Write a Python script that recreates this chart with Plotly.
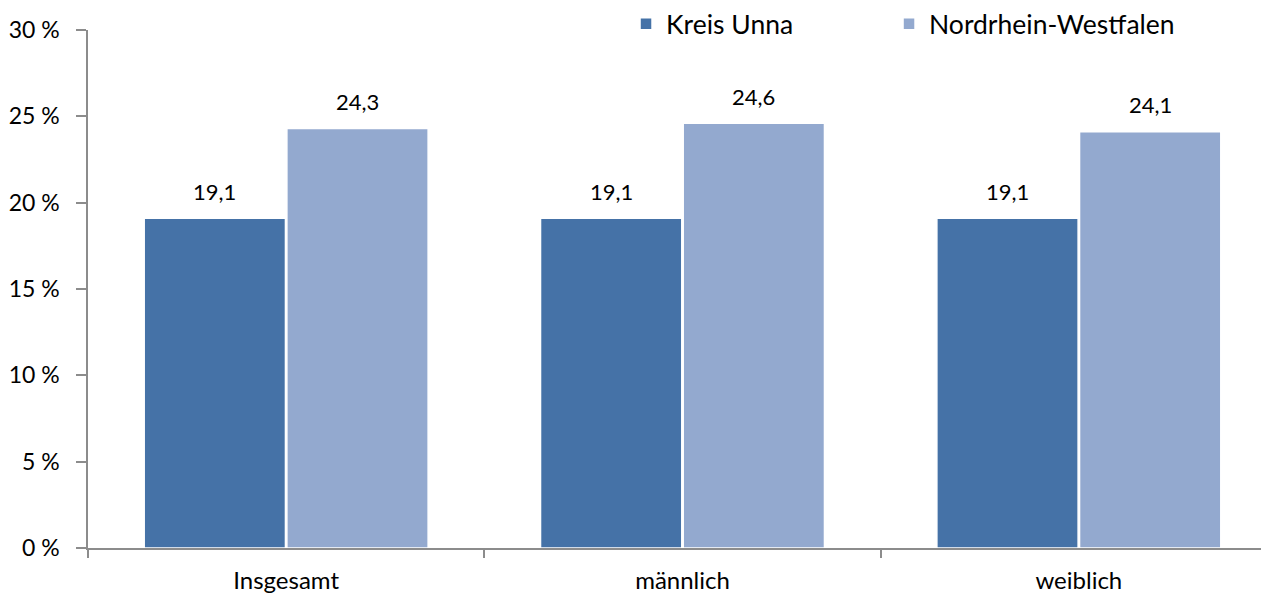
import plotly.graph_objects as go

categories = ['Insgesamt', 'männlich', 'weiblich']
kreis_unna = [19.1, 19.1, 19.1]
nrw = [24.3, 24.6, 24.1]
y_ticks = [0, 5, 10, 15, 20, 25, 30]
y_tick_labels = [f'{t} %' for t in y_ticks]

FONT = 'Lato'
AXIS_COLOR = '#8c8c8c'

fig = go.Figure()
fig.add_trace(go.Bar(
    x=categories, y=kreis_unna, name='Kreis Unna', legend='legend',
    marker=dict(color='#4572A7', line=dict(color='white', width=1.5)),
))
fig.add_trace(go.Bar(
    x=categories, y=nrw, name='Nordrhein-Westfalen', legend='legend2',
    marker=dict(color='#93A9CF', line=dict(color='white', width=1.5)),
))

# Werte über den Balken
for i, (a, b) in enumerate(zip(kreis_unna, nrw)):
    for off, v in ((-0.18, a), (0.18, b)):
        fig.add_annotation(
            x=i + off, y=v, xref='x', yref='y',
            text=f'{v:.1f}'.replace('.', ','),
            showarrow=False, yshift=27, yanchor='middle',
            font=dict(family=FONT, size=22, color='black'),
        )

legend_style = dict(
    orientation='h', xanchor='left', yanchor='middle', y=1.0116,
    font=dict(family=FONT, size=26.5), itemwidth=30,
    bgcolor='rgba(0,0,0,0)',
)

fig.update_layout(
    width=1269, height=594,
    margin=dict(l=80, r=0, t=22, b=54, autoexpand=False),
    plot_bgcolor='white', paper_bgcolor='white',
    barmode='group', bargap=0.28, bargroupgap=0.01,
    font=dict(family=FONT, color='black'),
    showlegend=True,
    legend=dict(x=0.4525, **legend_style),
    legend2=dict(x=0.6737, **legend_style),
    xaxis=dict(
        range=[-0.5, 2.5], automargin=False,
        showline=True, linecolor=AXIS_COLOR, linewidth=1.5,
        ticks='outside', tickson='boundaries', ticklen=8,
        tickcolor=AXIS_COLOR, tickwidth=1.5,
        tickfont=dict(family=FONT, size=24),
        ticklabelstandoff=10,
        showgrid=False,
    ),
    yaxis=dict(
        range=[0, 30], tickvals=y_ticks, ticktext=y_tick_labels,
        automargin=False,
        showline=True, linecolor=AXIS_COLOR, linewidth=1.5,
        ticks='outside', ticklen=10, tickcolor=AXIS_COLOR, tickwidth=1.5,
        tickfont=dict(family=FONT, size=23),
        ticklabelstandoff=12,
        showgrid=False, zeroline=False,
    ),
)

fig.write_html('out.html')
